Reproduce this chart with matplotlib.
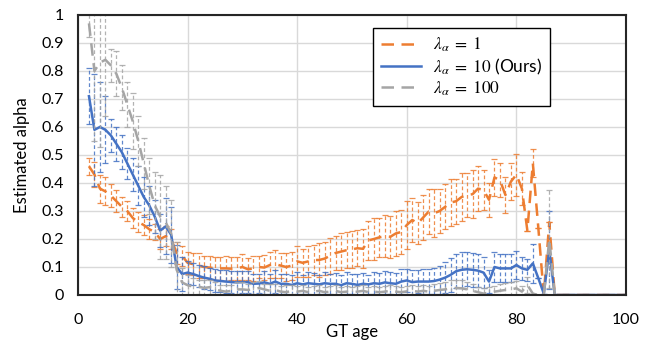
import numpy as np
import matplotlib
matplotlib.use("Agg")
import matplotlib.pyplot as plt
from matplotlib.lines import Line2D

ages = list(range(2, 101))

orange = [0.46, 0.43, 0.38, 0.37, 0.355, 0.335, 0.315, 0.30, 0.275, 0.26,
          0.25, 0.235, 0.225, 0.20, 0.21, 0.20, 0.15, 0.14, 0.115, 0.11,
          0.105, 0.10, 0.098, 0.095, 0.095, 0.095, 0.094, 0.095, 0.10, 0.092,
          0.095, 0.10, 0.098, 0.107, 0.11, 0.105, 0.10, 0.105, 0.12, 0.115,
          0.12, 0.125, 0.125, 0.13, 0.14, 0.15, 0.155, 0.16, 0.163, 0.167,
          0.165, 0.195, 0.20, 0.206, 0.21, 0.208, 0.22, 0.225, 0.25, 0.268,
          0.256, 0.277, 0.298, 0.292, 0.30, 0.315, 0.33, 0.335, 0.35, 0.357,
          0.36, 0.38, 0.375, 0.34, 0.42, 0.41, 0.357, 0.405, 0.43, 0.38,
          0.23, 0.47, 0.24, 0.0, 0.26, 0, 0, 0, 0, 0,
          0, 0, 0, 0, 0, 0, 0, 0, 0]
orange_err = [0.03, 0.045, 0.05, 0.05, 0.04, 0.04, 0.035, 0.035, 0.035, 0.035,
              0.035, 0.035, 0.03, 0.035, 0.035, 0.035, 0.04, 0.035, 0.04, 0.04,
              0.045, 0.04, 0.04, 0.04, 0.04, 0.045, 0.04, 0.04, 0.045, 0.04,
              0.045, 0.04, 0.045, 0.045, 0.05, 0.045, 0.05, 0.05, 0.055, 0.05,
              0.055, 0.055, 0.06, 0.06, 0.065, 0.06, 0.065, 0.065, 0.065, 0.065,
              0.07, 0.07, 0.075, 0.07, 0.075, 0.075, 0.08, 0.08, 0.085, 0.08,
              0.075, 0.08, 0.08, 0.085, 0.08, 0.08, 0.085, 0.08, 0.085, 0.08,
              0.085, 0.08, 0.07, 0.06, 0.065, 0.06, 0.065, 0.065, 0.075, 0.06,
              0.0, 0.05, 0.0, 0, 0, 0, 0, 0, 0, 0,
              0, 0, 0, 0, 0, 0, 0, 0, 0]

blue = [0.71, 0.59, 0.60, 0.59, 0.57, 0.54, 0.51, 0.47, 0.43, 0.39,
        0.35, 0.32, 0.28, 0.23, 0.245, 0.215, 0.10, 0.075, 0.08, 0.075,
        0.068, 0.062, 0.058, 0.052, 0.05, 0.048, 0.046, 0.045, 0.046, 0.046,
        0.04, 0.041, 0.045, 0.04, 0.048, 0.04, 0.04, 0.036, 0.042, 0.038,
        0.042, 0.04, 0.038, 0.042, 0.04, 0.04, 0.035, 0.042, 0.04, 0.036,
        0.04, 0.038, 0.042, 0.04, 0.045, 0.042, 0.04, 0.048, 0.052, 0.046,
        0.048, 0.048, 0.048, 0.05, 0.055, 0.062, 0.072, 0.085, 0.09, 0.092,
        0.09, 0.087, 0.08, 0.048, 0.10, 0.095, 0.095, 0.095, 0.107, 0.095,
        0.09, 0.113, 0.06, 0.005, 0.16, 0, 0, 0, 0, 0,
        0, 0, 0, 0, 0, 0, 0, 0, 0]
blue_err = [0.1, 0.2, 0.16, 0.12, 0.06, 0.06, 0.06, 0.055, 0.06, 0.07,
            0.07, 0.07, 0.06, 0.06, 0.1, 0.1, 0.08, 0.06, 0.04, 0.04,
            0.04, 0.04, 0.04, 0.04, 0.04, 0.04, 0.04, 0.04, 0.04, 0.04,
            0.035, 0.035, 0.04, 0.035, 0.04, 0.035, 0.035, 0.035, 0.04, 0.035,
            0.04, 0.04, 0.035, 0.04, 0.035, 0.04, 0.035, 0.04, 0.035, 0.04,
            0.04, 0.035, 0.04, 0.04, 0.04, 0.04, 0.04, 0.045, 0.04, 0.045,
            0.04, 0.045, 0.045, 0.045, 0.05, 0.055, 0.06, 0.06, 0.065, 0.06,
            0.06, 0.06, 0.055, 0.04, 0.055, 0.05, 0.05, 0.05, 0.05, 0.04,
            0.04, 0.07, 0.0, 0, 0.14, 0, 0, 0, 0, 0,
            0, 0, 0, 0, 0, 0, 0, 0, 0]

gray = [0.97, 0.80, 0.83, 0.84, 0.82, 0.79, 0.74, 0.68, 0.62, 0.55,
        0.47, 0.39, 0.32, 0.28, 0.26, 0.22, 0.09, 0.045, 0.035, 0.03,
        0.03, 0.025, 0.028, 0.02, 0.015, 0.012, 0.015, 0.02, 0.02, 0.018,
        0.02, 0.025, 0.02, 0.015, 0.018, 0.012, 0.01, 0.015, 0.012, 0.015,
        0.01, 0.012, 0.015, 0.01, 0.012, 0.015, 0.01, 0.012, 0.01, 0.012,
        0.015, 0.01, 0.012, 0.01, 0.012, 0.015, 0.012, 0.01, 0.013, 0.015,
        0.012, 0.015, 0.012, 0.015, 0.018, 0.02, 0.024, 0.025, 0.024, 0.02,
        0.015, 0.01, 0.005, 0.008, 0.012, 0.015, 0.018, 0.02, 0.024, 0.012,
        0.036, 0.005, 0.0, 0.0, 0.2, 0, 0, 0, 0, 0,
        0, 0, 0, 0, 0, 0, 0, 0, 0]
gray_err = [0.05, 0.25, 0.3, 0.2, 0.06, 0.08, 0.08, 0.08, 0.1, 0.09,
            0.09, 0.1, 0.12, 0.15, 0.13, 0.12, 0.1, 0.05, 0.035, 0.03,
            0.025, 0.03, 0.025, 0.025, 0.02, 0.025, 0.02, 0.025, 0.025, 0.02,
            0.025, 0.025, 0.02, 0.025, 0.02, 0.02, 0.025, 0.02, 0.02, 0.02,
            0.02, 0.02, 0.02, 0.02, 0.02, 0.02, 0.02, 0.02, 0.02, 0.02,
            0.02, 0.02, 0.02, 0.02, 0.02, 0.02, 0.02, 0.02, 0.02, 0.02,
            0.02, 0.02, 0.02, 0.025, 0.025, 0.025, 0.03, 0.03, 0.03, 0.025,
            0.025, 0.02, 0.02, 0.02, 0.02, 0.025, 0.025, 0.025, 0.025, 0.02,
            0.03, 0.0, 0.0, 0.0, 0.175, 0, 0, 0, 0, 0,
            0, 0, 0, 0, 0, 0, 0, 0, 0]

labels = [r'$\lambda_\alpha\;=\;1$', r'$\lambda_\alpha\;=\;10$ (Ours)', r'$\lambda_\alpha\;=\;100$']
colors = ['#ED7D31', '#4472C4', '#A5A5A5']

plt.rcParams['font.family'] = ['Lato', 'DejaVu Sans']
plt.rcParams['mathtext.fontset'] = 'stix'

fig = plt.figure(figsize=(6.45, 3.45), dpi=100)
ax = fig.add_axes([78/645, 50/345, 548/645, 280/345])

dash = (0, (5, 3))
series = [(orange, orange_err, colors[0], dash),
          (blue, blue_err, colors[1], '-'),
          (gray, gray_err, colors[2], dash)]
handles = []
for i, (vals, err, c, ls) in enumerate(series):
    eb = ax.errorbar(ages, vals, yerr=err, color=c, lw=1.8, ls=ls,
                     ecolor=c, elinewidth=0.9, capsize=2.5, capthick=0.9,
                     zorder=3 + i)
    for lc in eb[2]:
        lc.set_linestyle((0, (3, 2)))
        lc.set_alpha(0.85)
    for cap in eb[1]:
        cap.set_alpha(0.85)
    handles.append(Line2D([], [], color=c, lw=1.8, ls=ls))

ax.set_xlim(0, 100)
ax.set_ylim(0, 1)
ax.set_xticks([0, 20, 40, 60, 80, 100])
ax.set_yticks(np.arange(0, 1.01, 0.1))
ax.set_yticklabels(['0', '0.1', '0.2', '0.3', '0.4', '0.5', '0.6', '0.7', '0.8', '0.9', '1'])
ax.tick_params(axis='both', length=0, labelsize=11.5, colors='#000000')
ax.tick_params(axis='x', pad=13)
ax.tick_params(axis='y', pad=10)
ax.grid(True, color='#D9D9D9', lw=1.0, zorder=0)
ax.set_axisbelow(True)
for s in ax.spines.values():
    s.set_color('#262626')
    s.set_linewidth(1.5)
    s.set_zorder(10)

ax.set_xlabel('GT age', fontsize=12, labelpad=-2)
ax.set_ylabel('Estimated alpha', fontsize=12, labelpad=8)

leg = ax.legend(handles, labels, loc='upper left', bbox_to_anchor=(0.538, 0.954),
                borderaxespad=0, fancybox=False, framealpha=1, edgecolor='#000000',
                fontsize=12.5, handlelength=2.3, labelspacing=0.15, borderpad=0.45,
                handletextpad=0.7)
leg.get_frame().set_linewidth(1.0)
leg.set_zorder(20)

fig.savefig('out.png', dpi=100)
